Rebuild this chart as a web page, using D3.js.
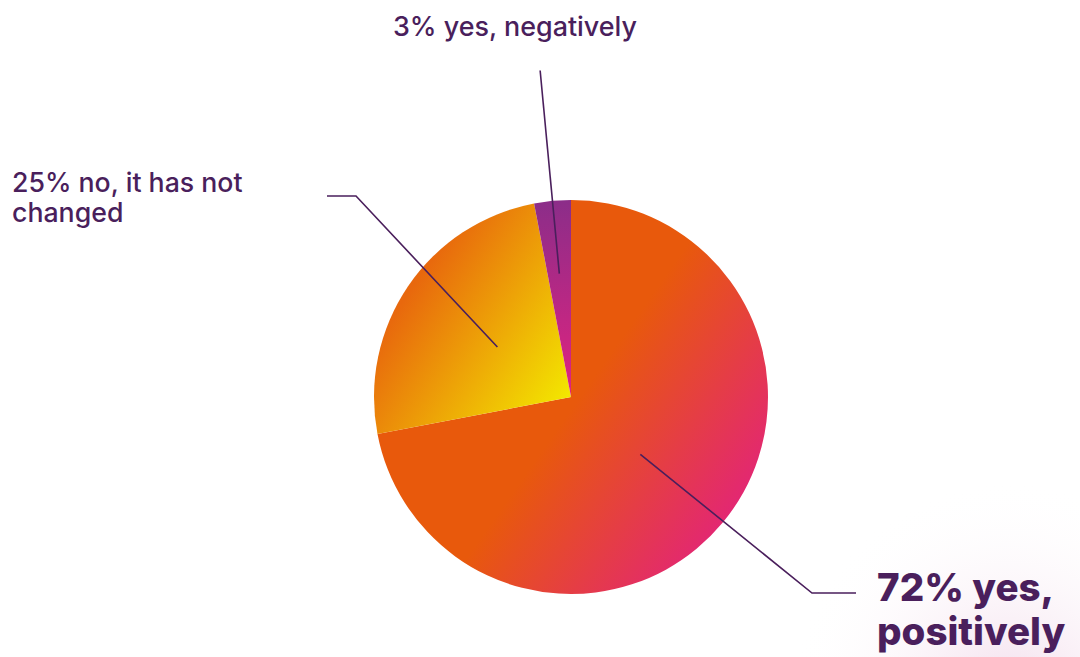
<!DOCTYPE html>
<html>
<head>
<meta charset="utf-8">
<script src="https://cdn.jsdelivr.net/npm/d3@7"></script>
<style>
  html, body { margin: 0; padding: 0; background: #fff; }
  svg { display: block; }
  .lbl { font-family: "Inter", "Open Sans", sans-serif; fill: #4a1f5c; }
</style>
</head>
<body>
<svg id="chart"></svg>
<script>
// --- data ---
const categories = ["yes, positively", "no, it has not changed", "yes, negatively"];
const values = [72, 25, 3];
const labelLines = [
  ["72% yes,", "positively"],
  ["25% no, it has not", "changed"],
  ["3% yes, negatively"]
];

const width = 1080, height = 657;
const cx = 571, cy = 397, radius = 197;

const svg = d3.select('#chart').attr('width', width).attr('height', height);
const defs = svg.append('defs');

// faint pink glow in the bottom right corner
const glow = defs.append('radialGradient').attr('id', 'glow')
  .attr('gradientUnits', 'userSpaceOnUse')
  .attr('cx', 1010).attr('cy', 700).attr('r', 220);
glow.append('stop').attr('offset', 0).attr('stop-color', '#efd3e6').attr('stop-opacity', 0.8);
glow.append('stop').attr('offset', 1).attr('stop-color', '#ffffff').attr('stop-opacity', 0);
svg.append('rect').attr('width', width).attr('height', height).attr('fill', 'url(#glow)');

// slice gradients, coordinates relative to the pie centre
const gradSpecs = [
  { x1: -31, y1: -37, x2: 189, y2: 118, stops: [[0, '#e8590c'], [0.2, '#e8590c'], [1, '#e2217f']] },
  { x1: -161, y1: -107, x2: 1, y2: 1, stops: [[0, '#e8680d'], [1, '#f3e900']] },
  { x1: 0, y1: -195, x2: 0, y2: 0, stops: [[0, '#8c2d89'], [1, '#e2237f']] }
];
gradSpecs.forEach((s, i) => {
  const lg = defs.append('linearGradient').attr('id', 'slice' + i)
    .attr('gradientUnits', 'userSpaceOnUse')
    .attr('x1', s.x1).attr('y1', s.y1).attr('x2', s.x2).attr('y2', s.y2);
  s.stops.forEach(st => lg.append('stop').attr('offset', st[0]).attr('stop-color', st[1]));
});

const pie = d3.pie().sort(null).value(d => d);
const arcs = pie(values);
const arc = d3.arc().innerRadius(0).outerRadius(radius);

const g = svg.append('g').attr('transform', `translate(${cx},${cy})`);

g.selectAll('path.slice')
  .data(arcs)
  .enter().append('path')
  .attr('class', 'slice')
  .attr('d', arc)
  .attr('fill', (d, i) => `url(#slice${i})`);

// --- leader lines ---
// per slice: radius where the line starts, elbow offset from centre, end x of horizontal tail
const leaders = [
  { r0: 90, elbow: [241, 196], endX: 856 },
  { r0: 89, elbow: [-215, -201], endX: 327 },
  { r0: 124, elbow: null, rEnd: 328 }
];

const line = d3.line();
arcs.forEach((d, i) => {
  const a = (d.startAngle + d.endAngle) / 2;
  const L = leaders[i];
  const p0 = [L.r0 * Math.sin(a), -L.r0 * Math.cos(a)];
  let pts;
  if (L.elbow) {
    pts = [p0, L.elbow, [L.endX - cx, L.elbow[1]]];
  } else {
    pts = [p0, [L.rEnd * Math.sin(a), -L.rEnd * Math.cos(a)]];
  }
  g.append('path').attr('d', line(pts))
    .attr('fill', 'none').attr('stroke', '#4a1f5c').attr('stroke-width', 1.6);
});

// --- labels ---
const big = svg.append('text').attr('class', 'lbl')
  .attr('x', 877).attr('y', 601)
  .style('font-size', '38.5px').style('font-weight', 800);
labelLines[0].forEach((t, j) => big.append('tspan').attr('x', 877).attr('dy', j ? 44 : 0).text(t));

const mid = svg.append('text').attr('class', 'lbl')
  .attr('x', 12).attr('y', 192)
  .style('font-size', '26.7px').style('font-weight', 500);
labelLines[1].forEach((t, j) => mid.append('tspan').attr('x', 12).attr('dy', j ? 30 : 0).text(t));

svg.append('text').attr('class', 'lbl')
  .attr('x', 393).attr('y', 36)
  .style('font-size', '26.9px').style('font-weight', 500)
  .text(labelLines[2][0]);
</script>
</body>
</html>
